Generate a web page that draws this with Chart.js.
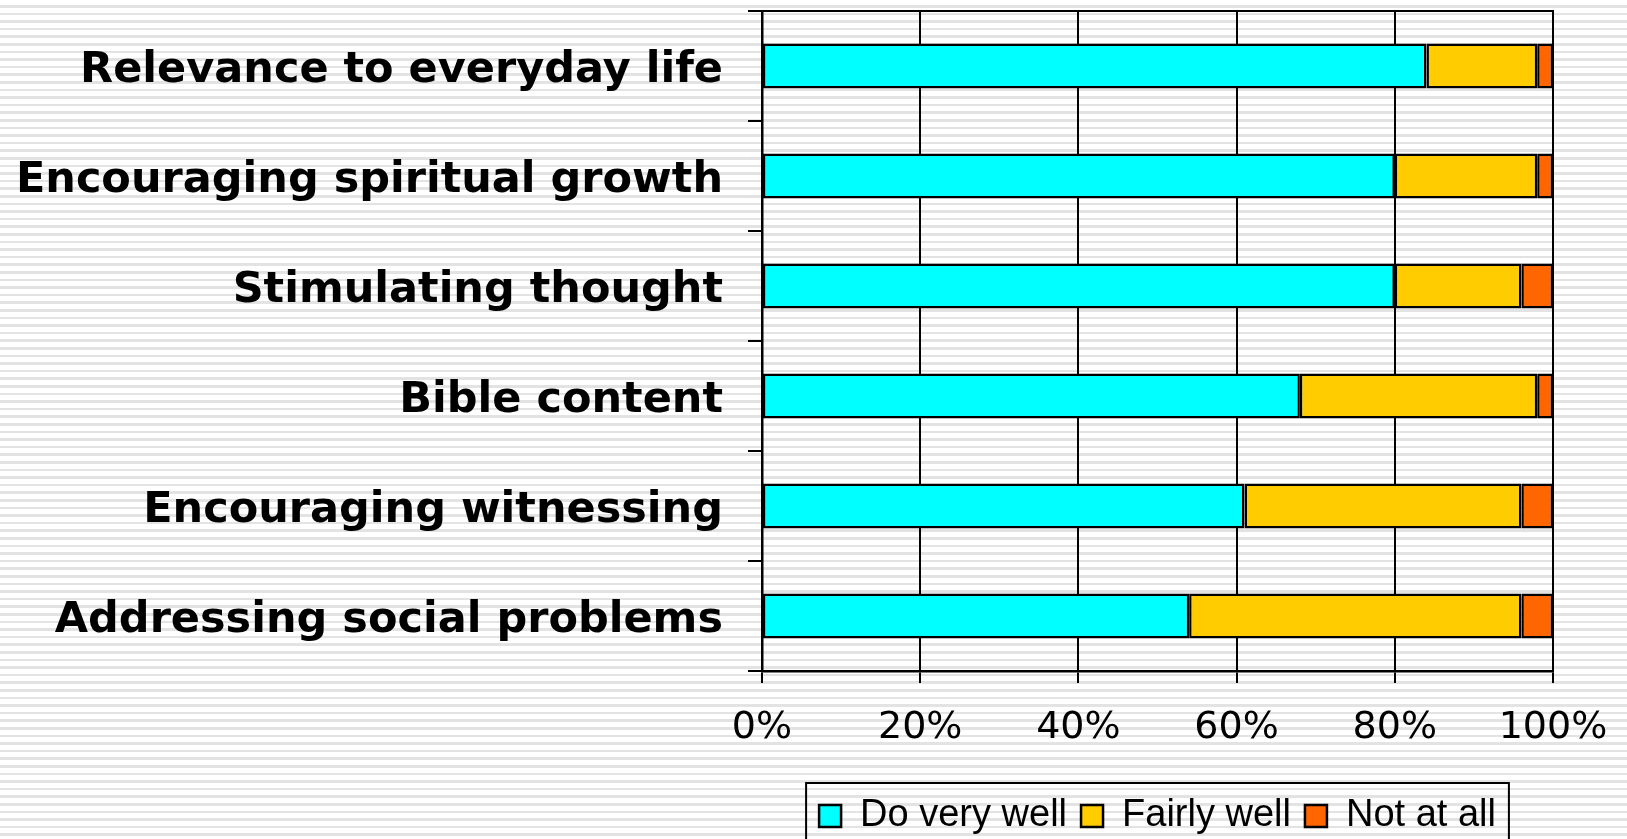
<!DOCTYPE html>
<html>
<head>
<meta charset="utf-8">
<script src="https://cdn.jsdelivr.net/npm/chart.js@4.4.0/dist/chart.umd.min.js"></script>
<style>
  html, body {
    margin: 0;
    padding: 0;
    overflow: hidden;
    background: repeating-linear-gradient(to bottom, #ffffff 0px, #ffffff 5px, #e3e3e3 5px, #e3e3e3 7.6px);
  }
  #wrap { width: 1627px; height: 845px; position: relative; }
</style>
</head>
<body>
<div id="wrap"><canvas id="chart"></canvas></div>
<script>
// 類別與數值
const categories = [
  'Relevance to everyday life',
  'Encouraging spiritual growth',
  'Stimulating thought',
  'Bible content',
  'Encouraging witnessing',
  'Addressing social problems'
];
const doVeryWell = [84, 80, 80, 68, 61, 54];
const fairlyWell = [14, 18, 16, 30, 35, 42];
const notAtAll = [2, 2, 4, 2, 4, 4];
const seriesNames = ['Do very well', 'Fairly well', 'Not at all'];
const xTicks = [0, 20, 40, 60, 80, 100];

const colors = ['#00ffff', '#ffcc00', '#ff6600'];

const datasets = [doVeryWell, fairlyWell, notAtAll].map((vals, idx) => ({
  label: seriesNames[idx],
  data: vals,
  backgroundColor: colors[idx],
  borderColor: '#000',
  borderWidth: 2.5,
  borderSkipped: false,
  categoryPercentage: 1,
  barPercentage: 0.41
}));

// 圖例外框
const legendBorder = {
  id: 'legendBorder',
  afterDraw(chart) {
    const lg = chart.legend;
    if (!lg || !lg.legendHitBoxes.length) return;
    const boxes = lg.legendHitBoxes;
    const left = boxes[0].left - 13;
    const last = boxes[boxes.length - 1];
    const right = last.left + last.width + 13;
    const top = chart.chartArea.bottom + 112;
    const ctx = chart.ctx;
    ctx.save();
    ctx.strokeStyle = '#000';
    ctx.lineWidth = 2;
    ctx.strokeRect(left, top, right - left, 100);
    ctx.restore();
  }
};

const ctx = document.getElementById('chart').getContext('2d');
new Chart(ctx, {
  type: 'bar',
  data: { labels: categories, datasets: datasets },
  plugins: [legendBorder],
  options: {
    indexAxis: 'y',
    responsive: true,
    maintainAspectRatio: false,
    animation: false,
    layout: { padding: { left: 0, right: 74, top: 0, bottom: 0 } },
    plugins: {
      tooltip: { enabled: false },
      legend: {
        position: 'bottom',
        fullSize: false,
        labels: {
          color: '#000',
          font: { family: 'Liberation Sans', size: 38 },
          boxWidth: 22,
          boxHeight: 22,
          padding: 14
        }
      }
    },
    scales: {
      x: {
        stacked: true,
        min: 0,
        max: 100,
        afterBuildTicks: (scale) => { scale.ticks = xTicks.map(v => ({ value: v })); },
        afterFit: (scale) => { scale.height = 112; scale.paddingLeft = 0; scale.paddingRight = 0; },
        grid: { color: '#000', lineWidth: 2, tickLength: 12 },
        border: { color: '#000', width: 2.5 },
        ticks: {
          color: '#000',
          padding: 22,
          maxRotation: 0,
          font: { family: 'DejaVu Sans', size: 38 },
          callback: (v) => v + '%'
        }
      },
      x2: {
        position: 'top',
        min: 0,
        max: 100,
        afterFit: (scale) => { scale.height = 11; scale.paddingLeft = 0; scale.paddingRight = 0; },
        grid: { display: false },
        border: { color: '#000', width: 2 },
        ticks: { display: false }
      },
      y: {
        stacked: true,
        afterFit: (scale) => { scale.width = 762; scale.paddingTop = 0; scale.paddingBottom = 0; },
        grid: { offset: true, drawOnChartArea: false, color: '#000', lineWidth: 2, tickLength: 14 },
        border: { color: '#000', width: 2.5 },
        ticks: {
          color: '#000',
          padding: 25,
          labelOffset: 5,
          font: { family: 'DejaVu Sans', size: 43, weight: 'bold' }
        }
      }
    }
  }
});
</script>
</body>
</html>
